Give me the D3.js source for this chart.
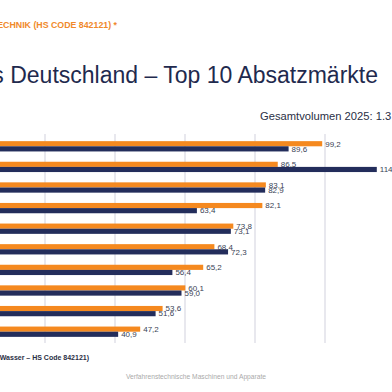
<!DOCTYPE html>
<html><head><meta charset="utf-8">
<script src="https://cdn.jsdelivr.net/npm/d3@7"></script>
<style>html,body{margin:0;padding:0;background:#fff;overflow:hidden}svg{display:block;font-family:"Liberation Sans",Arial,sans-serif}</style>
</head><body><svg id="c" width="392" height="392"></svg>
<script>
const categories = ["1","2","3","4","5","6","7","8","9","10"];
const series = ["2024","2025"];
const values2024 = [99.2, 86.5, 83.1, 82.1, 73.8, 68.4, 65.2, 60.1, 53.6, 47.2];
const values2025 = [89.6, 114.8, 82.9, 63.4, 73.1, 72.3, 56.4, 59.0, 51.6, 40.9];
const gridTicks = [20, 40, 60, 80, 100];

const colors = {"2024":"#F5891F","2025":"#232D5B"};
const svg = d3.select("#c");
const x = d3.scaleLinear().domain([0,120]).range([-25,395]);
const y0 = d3.scaleBand().domain(categories).range([136,342]).paddingInner(0.5).paddingOuter(0.25);
const y1 = d3.scaleBand().domain(series).range([0,y0.bandwidth()]);
const fmt = v => d3.format(".1f")(v).replace(".", ",");

// gridlines
svg.append("g").selectAll("line").data(gridTicks).join("line")
  .attr("x1", d=>x(d)).attr("x2", d=>x(d)).attr("y1",134).attr("y2",343)
  .attr("stroke","#e1e1e8").attr("stroke-width",1.5);

const rows = categories.map((c,i)=>({c, vals:[{s:"2024",v:values2024[i]},{s:"2025",v:values2025[i]}]}));
const g = svg.append("g").selectAll("g").data(rows).join("g")
  .attr("transform", d=>`translate(0,${y0(d.c)})`);
g.selectAll("rect").data(d=>d.vals).join("rect")
  .attr("x", x(0)).attr("y", d=>y1(d.s)).attr("height", y1.bandwidth())
  .attr("width", d=>x(d.v)-x(0)).attr("fill", d=>colors[d.s]);
g.selectAll("text").data(d=>d.vals).join("text")
  .attr("x", d=>x(d.v)+3).attr("y", d=>y1(d.s)+y1.bandwidth()/2)
  .attr("dy","0.35em").attr("font-size",8).attr("fill","#3a3f55")
  .text(d=>fmt(d.v));

// texts
svg.append("text").attr("x",117).attr("y",28).attr("text-anchor","end")
  .attr("font-size",8.8).attr("font-weight","bold").attr("fill","#F0892A")
  .text("TECHNIK (HS CODE 842121) *");
svg.append("text").attr("x",378).attr("y",83).attr("text-anchor","end")
  .attr("font-size",23).attr("fill","#1F2A4E")
  .text("aus Deutschland – Top 10 Absatzmärkte");
svg.append("text").attr("x",260).attr("y",120)
  .attr("font-size",11.2).attr("fill","#2a2f45")
  .text("Gesamtvolumen 2025: 1.3");
svg.append("text").attr("x",89).attr("y",360).attr("text-anchor","end")
  .attr("font-size",7).attr("font-weight","bold").attr("fill","#2a2f45")
  .text("Wasser – HS Code 842121)");
svg.append("text").attr("x",196).attr("y",379).attr("text-anchor","middle")
  .attr("font-size",6.7).attr("fill","#aaaaaa")
  .text("Verfahrenstechnische Maschinen und Apparate");
</script></body></html>
